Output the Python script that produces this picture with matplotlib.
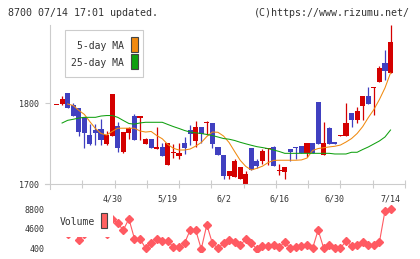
import numpy as np
import matplotlib
matplotlib.use('Agg')
import matplotlib.pyplot as plt
from matplotlib.patches import Rectangle
from matplotlib.lines import Line2D

W, H = 420, 259

# date labels (trading-day index) and weekly tick marks
dates = ['4/30', '5/19', '6/2', '6/16', '6/30', '7/14']
date_pos = [10, 20, 30, 40, 50, 60]
week_ticks = [4.6, 10.5, 16.3, 22.0, 27.8, 33.7, 39.4, 45.2, 50.9, 56.9, 62.6]

# daily candles
opens = [1797, 1799, 1812.3, 1797.2, 1793.8, 1782.4, 1760.6, 1766.8, 1768, 1749.6,
         1759.4, 1771.7, 1740, 1763, 1784, 1782, 1750, 1755.7, 1743.4, 1746,
         1723.7, 1738.5, 1734.8, 1750.8, 1766.8, 1753.3, 1770.5, 1775, 1775.4, 1746,
         1736, 1710, 1709, 1706.5, 1700.4, 1744.6, 1728.7, 1728.7, 1743.4, 1746,
         1716, 1715, 1743.4, 1746, 1747, 1738.5, 1750.8, 1801, 1736, 1769.3,
         1752, 1759.4, 1759.4, 1787.7, 1779, 1796.3, 1808.6, 1818.5, 1825.8, 1849.2,
         1837]
highs = [1798, 1808.6, 1812.5, 1800.4, 1794, 1783, 1774, 1774, 1780, 1765.6,
         1811, 1776.6, 1764.3, 1770.5, 1786, 1784, 1757, 1756, 1770.5, 1751,
         1751, 1749.6, 1750.8, 1758, 1773, 1778, 1771, 1778, 1776, 1746,
         1736, 1716.4, 1731, 1721.5, 1716.4, 1745, 1731, 1743.4, 1744.6, 1747,
         1725, 1721, 1744, 1746, 1747, 1751, 1750.8, 1801, 1776.6, 1770.5,
         1752, 1760.6, 1800, 1788, 1795, 1808.6, 1819.7, 1819.7, 1845.5, 1865,
         1896]
lows = [1797, 1797.5, 1794, 1784, 1759.4, 1745, 1748, 1748, 1748, 1748,
        1759.4, 1740, 1738.5, 1756, 1754, 1755, 1750, 1745, 1743, 1735,
        1723.7, 1732, 1731, 1737.3, 1748, 1746, 1750.8, 1760.6, 1744.6, 1736,
        1706.5, 1706.5, 1709, 1706.5, 1700, 1717, 1720, 1725, 1723.7, 1722,
        1711.4, 1706.5, 1728.7, 1731, 1738.5, 1733.6, 1738.5, 1749.6, 1736, 1749.6,
        1749.6, 1759.4, 1759.4, 1770.5, 1775.4, 1779, 1798.8, 1785, 1825.8, 1828,
        1837]
closes = [1797.5, 1804.5, 1794.2, 1784, 1764.3, 1762.7, 1749.6, 1762.7, 1754.5, 1760.6,
          1811, 1745, 1764.3, 1769.3, 1754.5, 1784, 1755.7, 1745, 1746, 1735,
          1750.8, 1740, 1738.5, 1744.6, 1762, 1770.5, 1762, 1775.5, 1749.6, 1736,
          1710, 1716.4, 1728.7, 1721, 1712.7, 1717.6, 1722.5, 1741, 1744.6, 1722.5,
          1716.5, 1721, 1739.7, 1744.6, 1738.5, 1750.8, 1738.5, 1749.6, 1750.8, 1749.6,
          1749.6, 1760.6, 1775.4, 1779, 1790, 1808.6, 1798.8, 1819.7, 1843, 1839.4,
          1875]

nan = np.nan
ma5 = [nan, nan, 1798.8, 1797, 1791, 1786, 1777, 1768.6, 1762.5, 1760.6,
       1765, 1769, 1769, 1769, 1769, 1765.6, 1764.3, 1765, 1760, 1756,
       1749, 1744.3, 1742.2, 1742.2, 1743.4, 1747, 1751.4, 1758.8, 1764.3, 1764,
       1759.4, 1751.4, 1740.3, 1729.5, 1722, 1717.6, 1719.7, 1722.3, 1726.7, 1729.4,
       1729.6, 1729.6, 1729.6, 1729.6, 1730, 1732.3, 1741.6, 1744, 1745, 1746,
       1746.8, 1748.3, 1752, 1756.3, 1762.5, 1771, 1782, 1791.9, 1804.3, 1818.5,
       1837]
ma25 = [nan, 1775.4, 1778.7, 1780, 1781.5, 1782.4, 1782.4, 1782.4, 1784, 1784.6,
        1784.6, 1782.4, 1778.5, 1774.8, 1774, 1775.5, 1776.3, 1776.3, 1776.3, 1776.3,
        1773.6, 1771, 1768.7, 1766.2, 1764.3, 1763.3, 1762.5, 1761.3, 1760, 1758.2,
        1756.3, 1755.5, 1753.9, 1751.7, 1749.8, 1748, 1746.3, 1745.2, 1743.9, 1742.2,
        1740.4, 1738.1, 1738.1, 1738.1, 1738.1, 1738.1, 1738.1, 1738.1, 1738.1, 1738.1,
        1737.3, 1737.3, 1737.3, 1739.4, 1739.4, 1742.8, 1745.9, 1749.6, 1753.3, 1758.2,
        1766.8]

# first values sit behind the "Volume" legend box
volume = [5000, 5500, 3450, 5200, 2170, 3450, 5000, 4800, 5200, 3450,
          6660, 5725, 4300, 6700, 2450, 2450, 400, 1590, 2380, 2020,
          2020, 610, 610, 1470, 4300, 4300, 250, 5430, 1470, 400,
          1470, 2240, 1740, 1040, 2380, 1470, 190, 890, 890, 1040,
          610, 1740, 400, 740, 890, 1100, 400, 4300, 400, 1100,
          400, 400, 1960, 950, 1100, 1740, 1100, 1100, 1680, 8350,
          8700]

RED = '#d40000'
BLUE = '#4040c0'
ORANGE = '#f08a10'
GREEN = '#10a010'
VOL = '#ff5a62'
GRID = '#cccccc'
TXT = '#333333'

plt.rcParams['font.family'] = ['DejaVu Sans Mono']


def fx(x):
    return x / W


def fy(y):
    return 1 - y / H


fig = plt.figure(figsize=(W / 100, H / 100), dpi=100)

# price panel
ax = fig.add_axes([fx(50), fy(184.3), (405 - 50) / W, (184.3 - 25) / H])
idx = np.arange(len(closes))
o = np.array(opens)
c = np.array(closes)
up = c >= o
colors = np.where(up, RED, BLUE)

ax.vlines(idx, lows, highs, colors=colors, linewidth=0.9, zorder=2)
body_lo = np.minimum(o, c)
body_h = np.maximum(np.abs(c - o), 1.3)
ax.bar(idx, body_h, bottom=body_lo, width=0.92, color=colors, linewidth=0, zorder=3)

ax.plot(idx, ma5, color=ORANGE, lw=0.75, zorder=4)
ax.plot(idx, ma25, color=GREEN, lw=0.75, zorder=4)

ax.set_xlim(-1.17, 62.6)
ax.set_ylim(1700, 1896)
for s in ax.spines.values():
    s.set_visible(False)
ax.set_yticks([1700, 1800])
ax.set_yticklabels(['1700', '1800'])
ax.tick_params(axis='y', length=3.6, width=0.8, color=GRID, pad=4, labelsize=6, labelcolor=TXT)
ax.set_xticks(date_pos)
ax.set_xticklabels(dates)
ax.tick_params(axis='x', which='major', length=0, pad=7.5, labelsize=6, labelcolor=TXT)
ax.set_xticks(week_ticks, minor=True)
ax.tick_params(axis='x', which='minor', length=5.6, width=0.8, color=GRID, direction='inout')

# axis lines
fig.add_artist(Line2D([fx(50), fx(50)], [fy(25), fy(188.5)], transform=fig.transFigure,
                      color=GRID, lw=0.8))
fig.add_artist(Line2D([fx(45), fx(405)], [fy(184.3), fy(184.3)], transform=fig.transFigure,
                      color=GRID, lw=0.8))

# price legend
fig.add_artist(Rectangle((fx(65), fy(77)), (143 - 65) / W, (77 - 30) / H, transform=fig.transFigure,
                         facecolor='white', edgecolor=GRID, lw=0.8))
fig.text(fx(124), fy(46), '5-day MA', ha='right', va='center', fontsize=7, color=TXT)
fig.text(fx(124), fy(63), '25-day MA', ha='right', va='center', fontsize=7, color=TXT)
fig.add_artist(Rectangle((fx(131), fy(52.3)), 6.7 / W, 15 / H, transform=fig.transFigure,
                         facecolor=ORANGE, edgecolor='#444444', lw=0.8))
fig.add_artist(Rectangle((fx(131), fy(69.3)), 6.7 / W, 15 / H, transform=fig.transFigure,
                         facecolor=GREEN, edgecolor='#444444', lw=0.8))

# volume panel
vax = fig.add_axes([fx(50), fy(252), (405 - 50) / W, (252 - 205) / H])
vax.plot(idx, volume, color=VOL, lw=0.8, marker='D', ms=4.2, mec=VOL, mfc=VOL)
vax.set_xlim(-1.17, 62.6)
vax.set_ylim(-391, 9655)
for s in vax.spines.values():
    s.set_visible(False)
vax.set_xticks([])
vax.set_yticks([400, 4600, 8800])
vax.set_yticklabels(['400', '4600', '8800'])
vax.tick_params(axis='y', length=0, pad=4, labelsize=6, labelcolor=TXT)
vax.patch.set_alpha(0)

# volume legend (white box hides the first points)
fig.add_artist(Rectangle((fx(53), fy(237)), (113 - 53) / W, (237 - 207) / H, transform=fig.transFigure,
                         facecolor='white', edgecolor='none', zorder=5))
fig.text(fx(59.3), fy(222.3), 'Volume', ha='left', va='center', fontsize=7, color=TXT, zorder=6)
fig.add_artist(Rectangle((fx(101.3), fy(228.3)), 6 / W, 15 / H, transform=fig.transFigure,
                         facecolor='#ff6060', edgecolor='#444444', lw=0.8, zorder=6))

# header
fig.text(fx(8), fy(12.5), '8700 07/14 17:01 updated.', ha='left', va='center', fontsize=7.2, color=TXT)
fig.text(fx(410), fy(12.5), '(C)https://www.rizumu.net/', ha='right', va='center', fontsize=7.2, color=TXT)

fig.savefig('out.png', dpi=100)
